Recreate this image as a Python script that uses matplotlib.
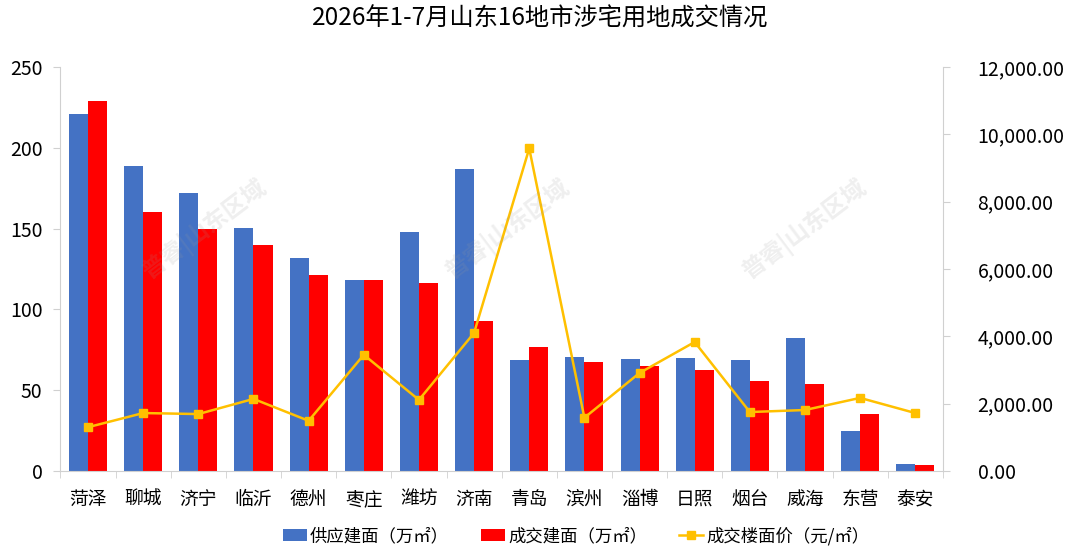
import matplotlib.pyplot as plt
from matplotlib.ticker import FuncFormatter
import numpy as np

plt.rcParams['font.family'] = ['Noto Sans CJK SC', 'DejaVu Sans']

cities = ['菏泽', '聊城', '济宁', '临沂', '德州', '枣庄', '潍坊', '济南',
          '青岛', '滨州', '淄博', '日照', '烟台', '威海', '东营', '泰安']
supply = [221, 189, 172, 150.5, 132, 118, 148, 187,
          68.5, 70.5, 69, 70, 68.5, 82, 25, 4.5]
deal = [229, 160, 150, 140, 121, 118, 116.5, 93,
        76.5, 67.5, 65, 62.5, 55.5, 54, 35, 3.5]
price = [1300, 1720, 1690, 2140, 1490, 3450, 2110, 4100,
         9580, 1580, 2910, 3830, 1750, 1810, 2170, 1720]

blue = '#4472C4'
red = '#FF0000'
gold = '#FFC000'
grey = '#D0D0D0'

fig = plt.figure(figsize=(10.8, 5.58), dpi=100)
ax = fig.add_axes([0.056, 0.156, 0.817, 0.724])
ax2 = ax.twinx()

x = np.arange(len(cities))
w = 0.345
b1 = ax.bar(x - w / 2, supply, w, color=blue, label='供应建面（万㎡）', zorder=2)
b2 = ax.bar(x + w / 2, deal, w, color=red, label='成交建面（万㎡）', zorder=2)
ln, = ax2.plot(x, price, color=gold, lw=1.8, marker='s', ms=6,
               label='成交楼面价（元/㎡）', zorder=3)

ax.set_xlim(-0.5, len(cities) - 0.5)
ax.set_ylim(0, 250)
ax.set_yticks(range(0, 251, 50))
ax2.set_ylim(0, 12000)
ax2.set_yticks(range(0, 12001, 2000))
ax2.yaxis.set_major_formatter(FuncFormatter(lambda v, p: f'{v:,.2f}'))

ax.set_xticks(x)
ax.set_xticklabels(cities, fontsize=13.5)
ax.set_xticks(np.arange(-0.5, len(cities)), minor=True)
ax.tick_params(axis='x', which='major', length=0, pad=13)
ax.tick_params(axis='x', which='minor', length=5, color=grey)
ax.tick_params(axis='y', length=5, color=grey, labelsize=14, pad=8)
ax2.tick_params(axis='y', length=5, color=grey, labelsize=14, pad=20)

for a in (ax, ax2):
    for s in a.spines.values():
        s.set_visible(False)
    a.spines['left'].set_visible(a is ax)
    a.spines['right'].set_visible(a is ax2)
    a.spines['bottom'].set_visible(a is ax)
for s in ('left', 'bottom'):
    ax.spines[s].set_color(grey)
ax2.spines['right'].set_color(grey)

fig.suptitle('2026年1-7月山东16地市涉宅用地成交情况', fontsize=17.5, y=0.99)

# watermark
for wx, wy in [(0.19, 0.59), (0.47, 0.59), (0.745, 0.59)]:
    fig.text(wx, wy, '普睿|山东区域', fontsize=17, color='#999999', alpha=0.16,
             rotation=37, ha='center', va='center', fontweight='bold')

fig.legend(handles=[b1, b2, ln], loc='lower center', ncol=3, frameon=False,
           fontsize=12.5, bbox_to_anchor=(0.5335, -0.005), handlelength=1.4,
           handleheight=0.65, handletextpad=0.15, columnspacing=1.85)

fig.savefig('out.png', dpi=100)
